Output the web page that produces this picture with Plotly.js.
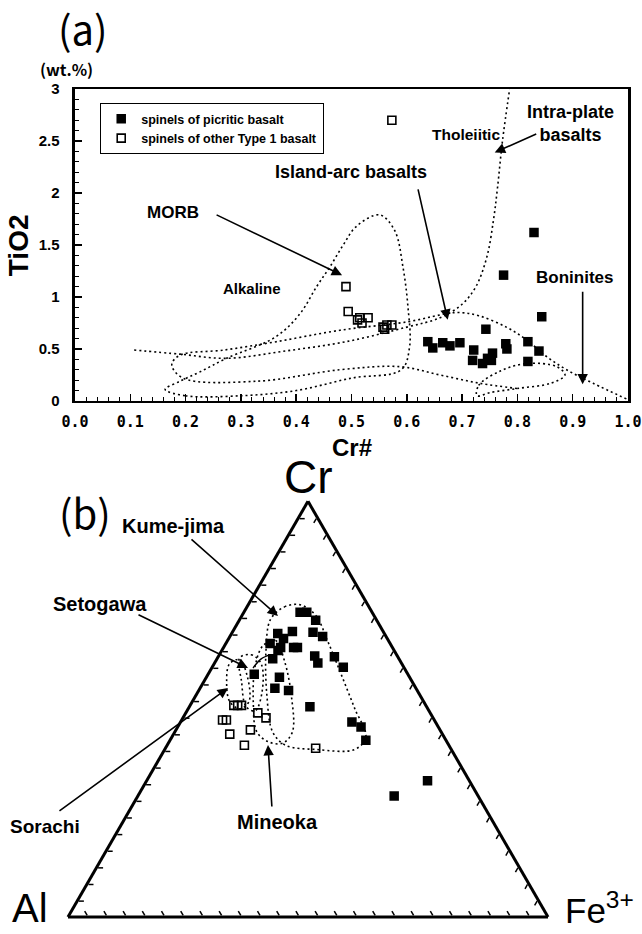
<!DOCTYPE html>
<html><head><meta charset="utf-8">
<script src="https://cdn.plot.ly/plotly-3.0.1.min.js"></script>
<style>html,body{margin:0;padding:0;background:#fff;}#chart{width:642px;height:934px;}</style>
</head><body><div id="chart"></div>
<script>
// ---------- Panel (a): Cr# vs TiO2 ----------
const picCrNum = [0.83,0.775,0.844,0.743,0.638,0.647,0.665,0.678,0.696,0.721,0.719,0.737,0.746,0.755,0.753,0.779,0.781,0.819,0.839,0.819];
const picTiO2  = [1.62,1.21,0.81,0.69,0.57,0.51,0.56,0.53,0.56,0.49,0.39,0.36,0.41,0.46,0.39,0.55,0.50,0.57,0.48,0.38];
const othCrNum = [0.573,0.490,0.494,0.511,0.515,0.519,0.530,0.557,0.564,0.573,0.560];
const othTiO2  = [2.70,1.10,0.86,0.78,0.80,0.75,0.80,0.71,0.73,0.73,0.69];

const morbX = [0.163,0.20,0.30,0.40,0.50,0.59,0.605,0.602,0.593,0.578,0.551,0.509,0.485,0.461,0.437,0.407,0.364,0.274,0.226,0.19,0.163];
const morbY = [0.11,0.05,0.05,0.10,0.22,0.30,0.52,0.91,1.29,1.64,1.79,1.68,1.50,1.29,1.10,0.84,0.62,0.41,0.28,0.19,0.11];
const arcX = [0.997,0.937,0.889,0.852,0.816,0.78,0.73,0.69,0.60,0.479,0.364,0.27,0.19,0.175,0.195,0.33,0.479,0.587,0.66,0.732,0.80];
const arcY = [0.02,0.17,0.30,0.43,0.59,0.71,0.82,0.85,0.76,0.68,0.57,0.49,0.44,0.35,0.22,0.19,0.30,0.33,0.25,0.17,0.12];
const ipX = [0.107,0.19,0.274,0.38,0.49,0.60,0.66,0.70,0.725,0.745,0.757,0.764,0.773,0.786];
const ipY = [0.49,0.45,0.41,0.48,0.57,0.71,0.80,0.93,1.10,1.39,1.75,2.05,2.50,3.00];
const bonX = [0.727,0.73,0.77,0.817,0.871,0.886,0.86,0.80,0.75,0.727];
const bonY = [0.05,0.15,0.29,0.36,0.33,0.25,0.17,0.12,0.08,0.05];

const xTickVals = [0,0.1,0.2,0.3,0.4,0.5,0.6,0.7,0.8,0.9,1.0];
const xTickText = ['0.0','0.1','0.2','0.3','0.4','0.5','0.6','0.7','0.8','0.9','1.0'];
const yTickVals = [0,0.5,1,1.5,2,2.5,3];
const yTickText = ['0','0.5','1','1.5','2','2.5','3'];

// ---------- Panel (b): Cr - Al - Fe3+ ternary ----------
const picCr = [0.733,0.733,0.714,0.682,0.687,0.685,0.675,0.670,0.658,0.648,0.648,0.648,0.641,0.621,0.628,0.611,0.626,0.601,0.584,0.577,0.550,0.545,0.506,0.469,0.457,0.425,0.328,0.291];
const picAl = [0.150,0.136,0.127,0.222,0.189,0.147,0.132,0.216,0.250,0.233,0.206,0.198,0.242,0.263,0.172,0.174,0.132,0.126,0.320,0.271,0.294,0.268,0.243,0.174,0.161,0.167,0.087,0.175];
const picFe = [0.117,0.131,0.159,0.096,0.124,0.168,0.193,0.114,0.092,0.119,0.146,0.154,0.117,0.116,0.200,0.215,0.242,0.273,0.096,0.152,0.156,0.187,0.251,0.357,0.382,0.408,0.585,0.534];
const othCr = [0.509,0.509,0.509,0.474,0.474,0.440,0.450,0.413,0.491,0.479,0.406];
const othAl = [0.400,0.392,0.384,0.441,0.433,0.443,0.395,0.426,0.359,0.348,0.281];
const othFe = [0.091,0.099,0.107,0.085,0.093,0.117,0.155,0.161,0.150,0.173,0.313];

const kumeCr = [0.716,0.746,0.751,0.726,0.665,0.584,0.501,0.433,0.403,0.403,0.413,0.445,0.531,0.641,0.716];
const kumeAl = [0.220,0.176,0.141,0.121,0.127,0.139,0.152,0.163,0.201,0.282,0.340,0.351,0.320,0.267,0.220];
const kumeFe = [0.064,0.078,0.108,0.153,0.208,0.277,0.347,0.404,0.396,0.315,0.247,0.204,0.149,0.092,0.064];
const mineCr = [0.653,0.665,0.616,0.531,0.445,0.418,0.421,0.445,0.518,0.604,0.653];
const mineAl = [0.267,0.235,0.241,0.269,0.310,0.344,0.371,0.384,0.355,0.308,0.267];
const mineFe = [0.080,0.100,0.143,0.200,0.245,0.238,0.208,0.171,0.127,0.088,0.080];
const setoCr = [0.623,0.631,0.609,0.543,0.496,0.506,0.567,0.623];
const setoAl = [0.331,0.303,0.293,0.324,0.362,0.376,0.355,0.331];
const setoFe = [0.046,0.066,0.098,0.133,0.142,0.118,0.078,0.046];
const soraCr = [0.609,0.619,0.579,0.518,0.501,0.518,0.567,0.609];
const soraAl = [0.359,0.333,0.337,0.364,0.392,0.404,0.386,0.359];
const soraFe = [0.032,0.048,0.084,0.118,0.107,0.078,0.047,0.032];
const arcSolidCr = [0.599,0.621,0.631];
const arcSolidAl = [0.315,0.287,0.262];
const arcSolidFe = [0.086,0.092,0.107];

const LBL = 'Liberation Sans, Arial, sans-serif';
const GOTH = 'Noto Sans CJK JP, DejaVu Sans, sans-serif';
const dotLine = {color:'#000', width:1.6, dash:'2px,3px', shape:'spline', smoothing:1};

const traces = [];
function outline(x, y){ traces.push({type:'scatter', mode:'lines', x:x, y:y, line:dotLine, showlegend:false, hoverinfo:'skip', xaxis:'x', yaxis:'y'}); }
outline(morbX, morbY); outline(arcX, arcY); outline(ipX, ipY); outline(bonX, bonY);
traces.push({type:'scatter', mode:'markers', x:othCrNum, y:othTiO2, name:'spinels of other Type 1 basalt',
  marker:{symbol:'square-open', size:8, color:'#000', line:{width:1.6, color:'#000'}}, xaxis:'x', yaxis:'y'});
traces.push({type:'scatter', mode:'markers', x:picCrNum, y:picTiO2, name:'spinels of picritic basalt',
  marker:{symbol:'square', size:9.5, color:'#000'}, xaxis:'x', yaxis:'y'});

function tOutline(a,b,c,solid){ traces.push({type:'scatterternary', mode:'lines', a:a, b:b, c:c,
  line: solid ? {color:'#000', width:1.4, shape:'spline'} : dotLine, showlegend:false, hoverinfo:'skip', subplot:'ternary'}); }
tOutline(kumeCr,kumeAl,kumeFe); tOutline(mineCr,mineAl,mineFe); tOutline(setoCr,setoAl,setoFe); tOutline(soraCr,soraAl,soraFe);
tOutline(arcSolidCr,arcSolidAl,arcSolidFe,true);
traces.push({type:'scatterternary', mode:'markers', a:othCr, b:othAl, c:othFe, showlegend:false,
  marker:{symbol:'square-open', size:8, color:'#000', line:{width:1.6, color:'#000'}}, subplot:'ternary'});
traces.push({type:'scatterternary', mode:'markers', a:picCr, b:picAl, c:picFe, showlegend:false,
  marker:{symbol:'square', size:9.5, color:'#000'}, subplot:'ternary'});

const tAxis = {title:{text:''}, showgrid:false, showline:true, linecolor:'#000', linewidth:3,
  ticks:'inside', ticklen:5, tickwidth:1.5, tickcolor:'#000', dtick:0.04, tick0:0, showticklabels:false, min:0};

function txt(x,y,t,size,extra){ return Object.assign({xref:'paper', yref:'paper', x:x, y:y, text:t, showarrow:false,
  font:{family:LBL, size:size, color:'#000'}, xanchor:'center', yanchor:'middle'}, extra||{}); }
function arr(xref,yref,x,y,ax,ay){ return {xref:xref, yref:yref, x:x, y:y, ax:ax, ay:ay, text:'', showarrow:true,
  arrowhead:2, arrowsize:1.3, arrowwidth:1.6, arrowcolor:'#000', standoff:0, startstandoff:0}; }

const annotations = [
  txt(0.129,0.970,'(a)',40,{font:{family:GOTH, size:40, color:'#000'}}),
  txt(0.103,0.926,'(wt.%)',16,{font:{family:GOTH, size:16, color:'#000', weight:'bold'}}),
  txt(0.030,0.7377,'<b>TiO2</b>',28,{textangle:-90}),
  txt(0.5483,0.5214,'<b>Cr#</b>',24),
  txt(0.2695,0.773,'<b>MORB</b>',17),
  txt(0.3925,0.6906,'<b>Alkaline</b>',15),
  txt(0.5467,0.8158,'<b>Island-arc basalts</b>',18),
  txt(0.7259,0.8555,'<b>Tholeiitic</b>',15.5),
  txt(0.8894,0.8683,'<b>Intra-plate<br>basalts</b>',18),
  txt(0.8956,0.7024,'<b>Boninites</b>',17),
  arr('x','y',0.483,1.21,-127,-61),
  arr('x','y',0.674,0.78,-30,-132),
  arr('x','y',0.759,2.39,43,-19),
  arr('x','y',0.918,0.16,0,-94),
  txt(0.1324,0.4520,'(b)',40,{font:{family:GOTH, size:40, color:'#000'}}),
  txt(0.4813,0.4889,'Cr',46),
  txt(0.0460,0.0280,'Al',40),
  txt(0.934,0.0280,'Fe<sup>3+</sup>',35),
  txt(0.2695,0.4368,'<b>Kume-jima</b>',20),
  txt(0.1558,0.3533,'<b>Setogawa</b>',20),
  txt(0.0701,0.1156,'<b>Sorachi</b>',19),
  txt(0.433,0.1199,'<b>Mineoka</b>',20),
  arr('paper','paper',0.433,0.3405,-88,-78),
  arr('paper','paper',0.3863,0.2848,-111,-54),
  arr('paper','paper',0.3551,0.2634,-170,124),
  arr('paper','paper',0.4174,0.2024,4,63)
];

const layout = {
  width:642, height:934, margin:{l:0,r:0,t:0,b:0}, paper_bgcolor:'#fff', plot_bgcolor:'#fff',
  font:{family:LBL, color:'#000'},
  showlegend:true,
  legend:{x:0.1558, y:0.8897, xanchor:'left', yanchor:'top', bgcolor:'#fff', bordercolor:'#000', borderwidth:1.2,
    font:{family:LBL, size:12.5, color:'#000', weight:'bold'}, traceorder:'reversed', itemwidth:30, tracegroupgap:0},
  xaxis:{domain:[0.1168,0.9782], range:[0,1], showgrid:false, zeroline:false, showline:true, mirror:true,
    linecolor:'#000', linewidth:2.5, ticks:'inside', ticklen:7, tickwidth:1.5, tickcolor:'#000',
    tickvals:xTickVals, ticktext:xTickText, ticklabelstandoff:6, ticklabeloverflow:'allow',
    tickfont:{family:'DejaVu Sans Mono, monospace', size:15, color:'#000', weight:'bold'},
    minor:{dtick:0.02, ticks:'inside', ticklen:4, tickwidth:1, tickcolor:'#000', showgrid:false}},
  yaxis:{domain:[0.5707,0.9047], range:[0,3], showgrid:false, zeroline:false, showline:true, mirror:true,
    linecolor:'#000', linewidth:2.5, ticks:'inside', ticklen:7, tickwidth:1.5, tickcolor:'#000',
    tickvals:yTickVals, ticktext:yTickText, ticklabelstandoff:10,
    tickfont:{family:LBL, size:15, color:'#000', weight:'bold'},
    minor:{dtick:0.1, ticks:'inside', ticklen:4, tickwidth:1, tickcolor:'#000', showgrid:false}},
  ternary:{domain:{x:[0.1059,0.8536], y:[0.0182,0.4633]}, sum:1, bgcolor:'#fff',
    aaxis:tAxis, baxis:tAxis, caxis:tAxis},
  annotations:annotations
};

Plotly.newPlot('chart', traces, layout, {staticPlot:true, displayModeBar:false});
</script>
</body></html>
